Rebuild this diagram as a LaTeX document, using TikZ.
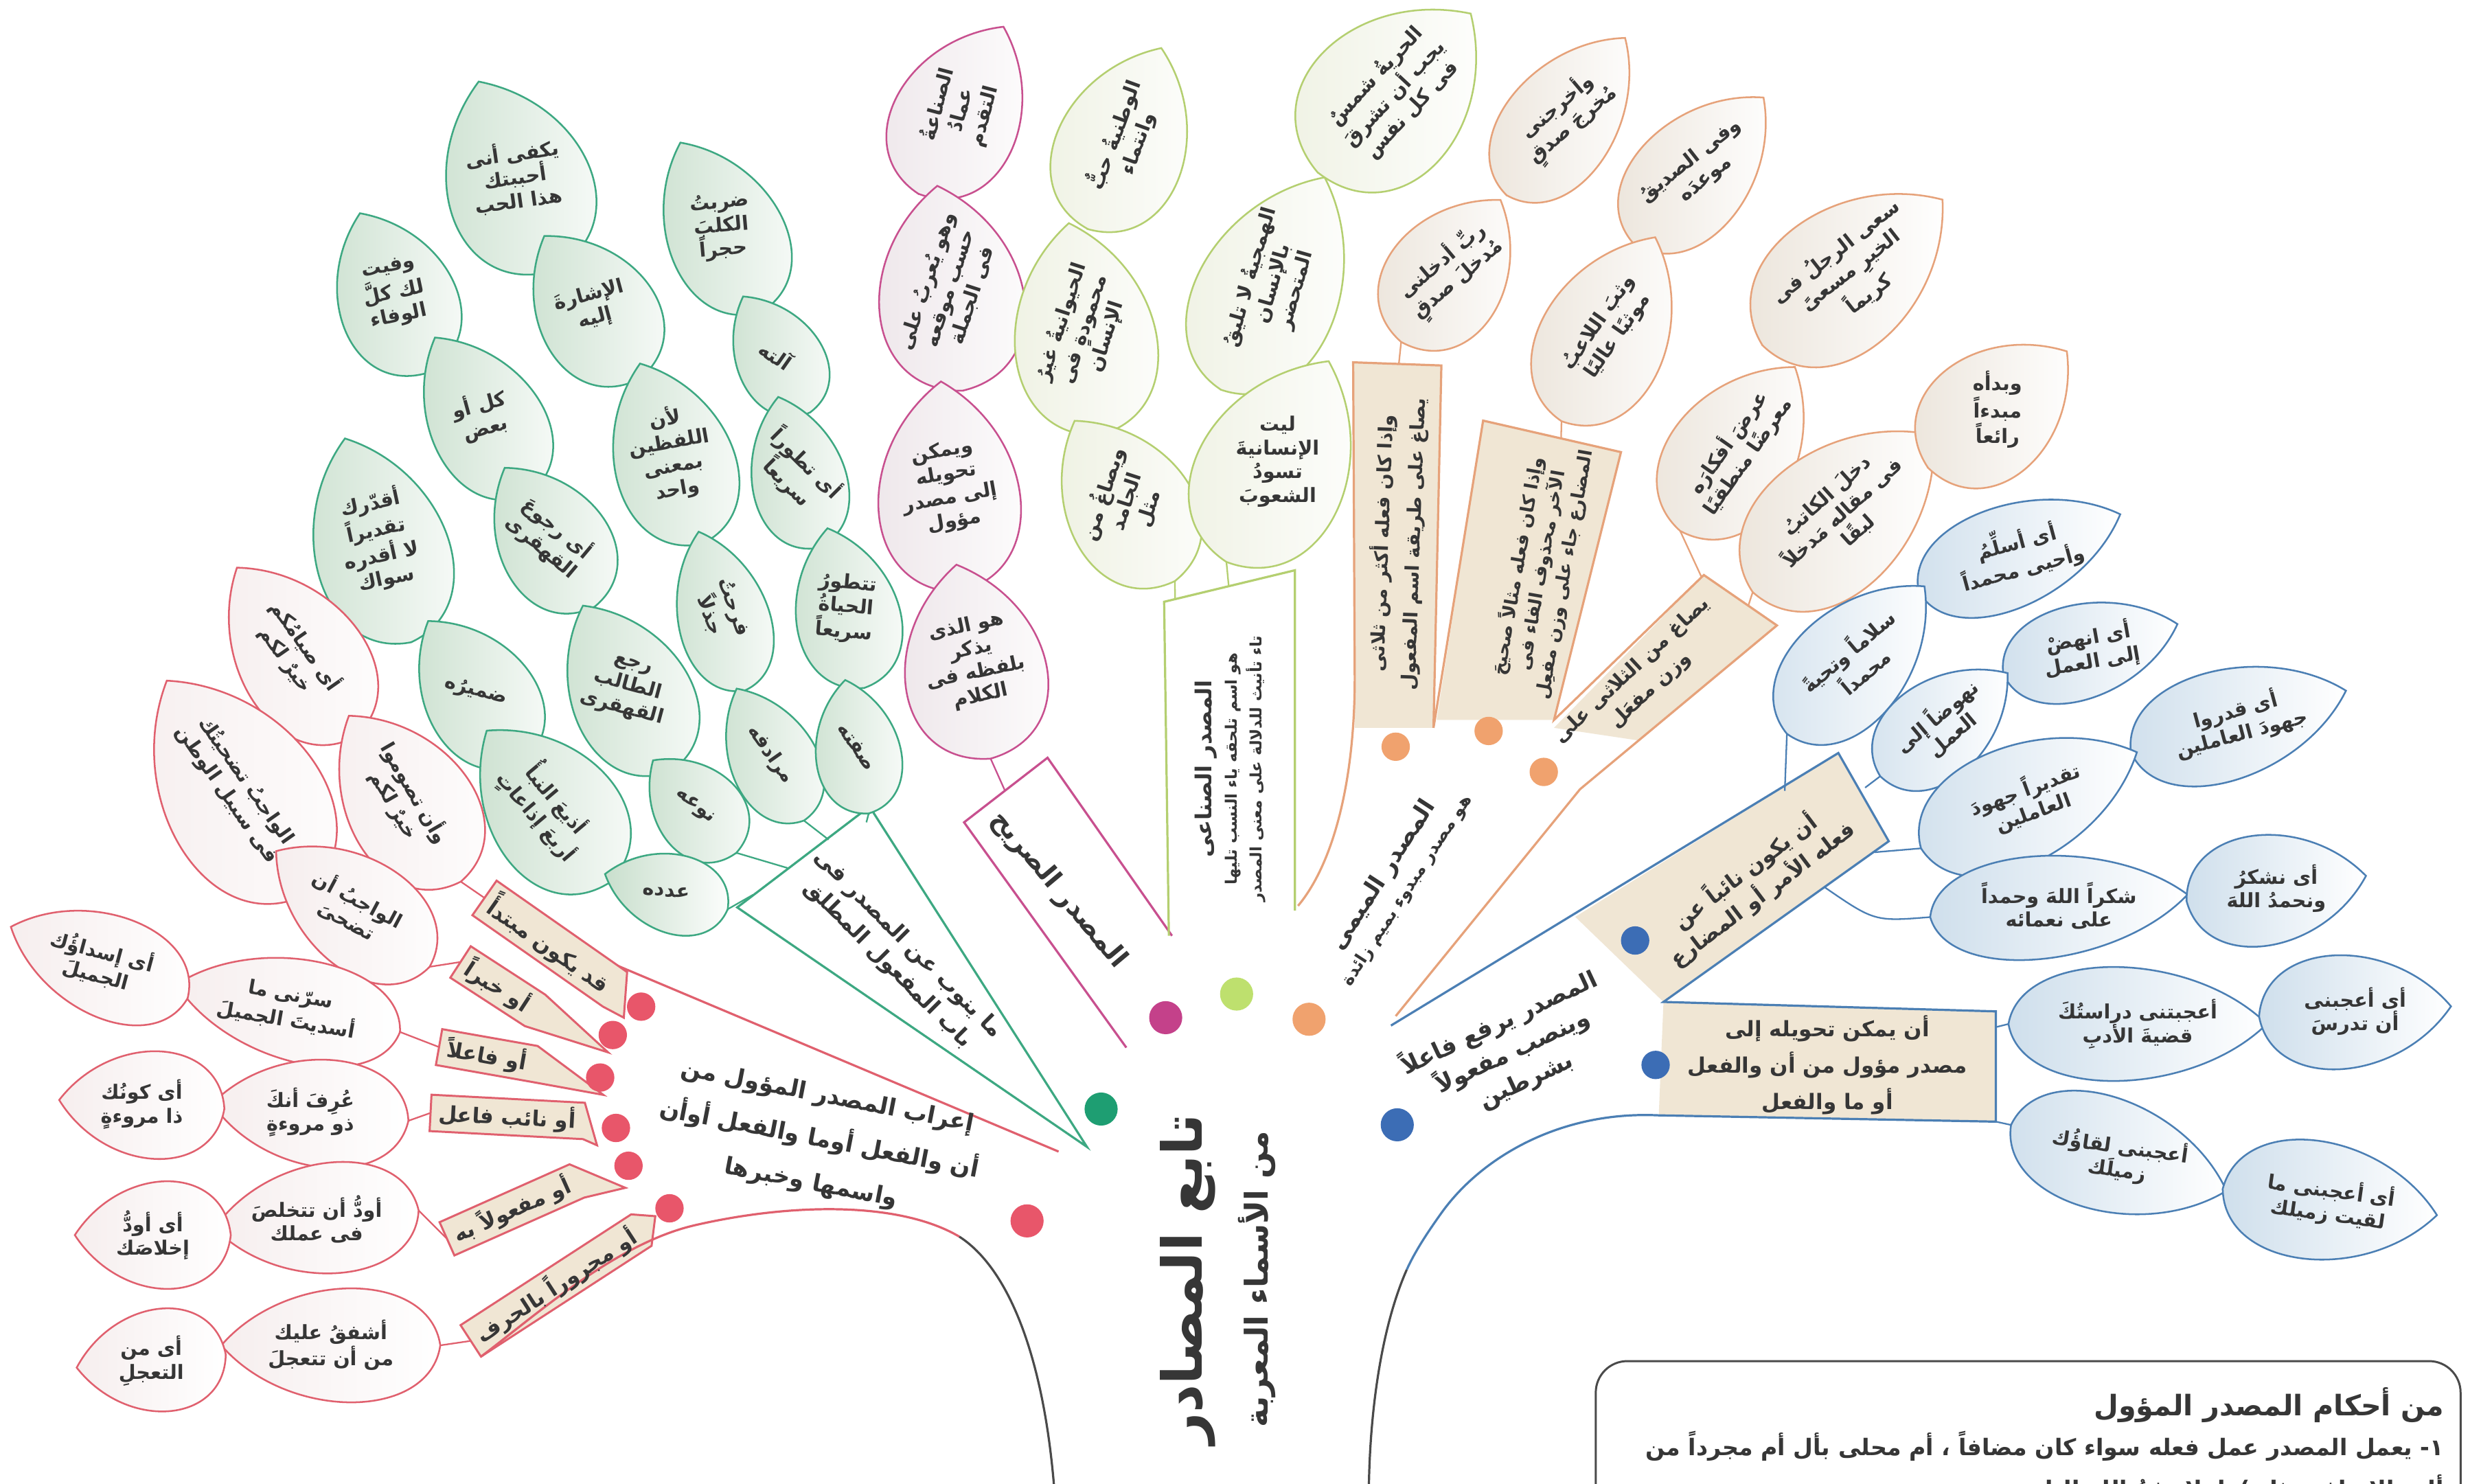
\documentclass[tikz,border=0pt]{standalone}
\usepackage{fontspec}
\newfontfamily\arfont[Script=Arabic]{DejaVu Sans}
\TeXXeTstate=1
\newcommand\ar[1]{\beginR #1\endR}
\pgfdeclarelayer{bg}
\pgfsetlayers{bg,main}
\definecolor{rc}{HTML}{E0606E}
\definecolor{rdotc}{HTML}{E8566A}
\definecolor{rfill}{HTML}{F6EEEE}
\definecolor{gc}{HTML}{3DA882}
\definecolor{gdotc}{HTML}{1E9E72}
\definecolor{gfill}{HTML}{C9DFCD}
\definecolor{pc}{HTML}{C8508F}
\definecolor{pdotc}{HTML}{C4418A}
\definecolor{pfill}{HTML}{ECE4E8}
\definecolor{lc}{HTML}{B4CF70}
\definecolor{ldotc}{HTML}{BEE06E}
\definecolor{lfill}{HTML}{EDF0E0}
\definecolor{oc}{HTML}{E6A27A}
\definecolor{odotc}{HTML}{F0A26E}
\definecolor{ofill}{HTML}{E9E1D6}
\definecolor{bc}{HTML}{4B7FB4}
\definecolor{bdotc}{HTML}{3C6DB5}
\definecolor{bfill}{HTML}{CFDFEC}
\definecolor{beige}{HTML}{F0E6D4}
\definecolor{txt}{HTML}{363636}
\definecolor{trunkc}{HTML}{4A4A4A}
\tikzset{
 leaftxt/.style={font=\arfont\bfseries\fontsize{12.5}{15}\selectfont,text=txt,align=center,inner sep=1pt},
 boxtxt/.style={text=txt,align=center,inner sep=1pt},
 leafline/.style={line width=1.1pt},
 gleaf/.style={leafline,draw=gc,left color=gfill,right color=white},
 pleaf/.style={leafline,draw=pc,left color=pfill,right color=white},
 lleaf/.style={leafline,draw=lc,left color=lfill,right color=white},
 oleaf/.style={leafline,draw=oc,left color=ofill,right color=white},
 bleaf/.style={leafline,draw=bc,left color=bfill,right color=white},
 rleaf/.style={leafline,draw=rc,left color=rfill,right color=white},
 branch/.style={line width=1.4pt},
 stem/.style={line width=1pt},
 plab/.style={font=\arfont\bfseries\fontsize{13.5}{16}\selectfont,text=txt,inner xsep=5pt,inner ysep=3pt},
 rbox/.style={draw=rc,line width=1.3pt,fill=beige},
 spot/.style={circle,inner sep=0pt,minimum size=#1},
}
\newcommand\leaf[9]{%
  \begin{pgfonlayer}{bg}
  \begin{scope}[shift={(#2,#3)},rotate=#4]
  \path[#7] (-#5/2,0) .. controls (-0.45*#5,0.67*#6) and (0.2*#5,0.67*#6) .. (#5/2,0)
     .. controls (0.2*#5,-0.67*#6) and (-0.45*#5,-0.67*#6) .. cycle;
  \coordinate (#1-b) at (-#5/2,0);
  \coordinate (#1-t) at (#5/2,0);
  \end{scope}
  \end{pgfonlayer}
  \node[leaftxt,rotate=#8] (#1) at (#2,#3) {#9};}
\newcommand\penn[3]{%
  \begin{pgfonlayer}{bg}
  \path[#3] (#1.south west) -- (#1.north west) -- (#1.north east) -- #2 -- (#1.south east) -- cycle;
  \end{pgfonlayer}}
\begin{document}
\begin{tikzpicture}[x=1pt,y=-1pt]
\useasboundingbox (0,0) rectangle (1568,942);
\begin{pgfonlayer}{bg}
\fill[white] (0,0) rectangle (1568,942);
% green wedge
\path[branch,draw=gc,fill=white] (690,728) -- (552,512) -- (468,576) -- cycle;
% pink
\draw[branch,pc] (744,594) -- (665,481) -- (612,522) -- (715,665);
% light green box
\draw[branch,lc] (742,594) -- (739,382) -- (822,362) -- (822,578);
% orange
\fill[beige] (859,230) -- (915,232) -- (910,462) -- (860,462) -- cycle;
\fill[beige] (941.5,267) -- (1029,287) -- (986.5,457) -- (912,457) -- cycle;
\fill[beige] (1081.6,365) -- (1128,397) -- (1040,470) -- (986.5,462) -- cycle;
\draw[branch,oc] (824,575) .. controls (845,550) and (860,500) .. (860,430) -- (859,230) -- (915,232) -- (910,462)
   -- (941.5,267) -- (1029,287) -- (986.5,457) -- (1081.6,365) -- (1128,397) -- (1003,501) -- (886,645);
% blue
\fill[beige] (1167,478) -- (1199,534) -- (1056,636) -- (1000,582) -- cycle;
\fill[beige] (1056,636) -- (1267,642) -- (1267,712) -- (1053,708) -- cycle;
\draw[branch,bc] (883,651) -- (1167,478) -- (1199,534) -- (1056,636) -- (1267,642) -- (1267,712) -- (1053,708)
   .. controls (990,705) and (940,735) .. (915,770) .. controls (905,784) and (898,795) .. (893,806);
\draw[branch,trunkc] (893,806) .. controls (878,840) and (870,890) .. (869,942);
% red
\draw[branch,rc] (392,613) -- (672,731);
\end{pgfonlayer}

% ---------- green leaves
\leaf{g1}{327}{112}{111}{129}{92}{gleaf}{8}{\ar{يكفى أنى}\\\ar{أحببتك}\\\ar{هذا الحب}}
\leaf{g2}{250}{186}{113}{110}{75}{gleaf}{12}{\ar{وفيت}\\\ar{لك كلَّ}\\\ar{الوفاء}}
\leaf{g3}{458}{144}{116}{119}{74}{gleaf}{5}{\ar{ضربتُ}\\\ar{الكلبَ}\\\ar{حجراً}}
\leaf{g4}{376}{195}{124}{109}{75}{gleaf}{15}{\ar{الإشارةَ}\\\ar{إليه}}
\leaf{g5}{493}{225}{120}{85}{55}{gleaf}{-35}{\ar{آلته}}
\leaf{g6}{306}{264}{121}{116}{72}{gleaf}{15}{\ar{كل أو}\\\ar{بعض}}
\leaf{g7}{426}{288}{109}{121}{76}{gleaf}{10}{\ar{لأن}\\\ar{اللفظين}\\\ar{بمعنى}\\\ar{واحد}}
\leaf{g8}{506}{300}{104}{99}{60}{gleaf}{-45}{\ar{أى تطوراً}\\\ar{سريعاً}}
\leaf{g9}{240}{343}{108}{136}{85}{gleaf}{12}{\ar{أقدّرك}\\\ar{تقديراً}\\\ar{لا أقدره}\\\ar{سواك}}
\leaf{g10}{349}{341}{123}{105}{70}{gleaf}{-40}{\ar{أى رجوعَ}\\\ar{القهقرى}}
\leaf{g11}{458}{388}{106}{105}{58}{gleaf}{-70}{\ar{فرحتُ}\\\ar{جذلاً}}
\leaf{g12}{537}{386}{103}{104}{66}{gleaf}{-5}{\ar{تتطورُ}\\\ar{الحياةُ}\\\ar{سريعاً}}
\leaf{g13}{302}{439}{124}{108}{70}{gleaf}{-15}{\ar{ضميرُه}}
\leaf{g14}{398}{437}{118}{119}{76}{gleaf}{-15}{\ar{رجع}\\\ar{الطالب}\\\ar{القهقرى}}
\leaf{g15}{489}{479}{117}{94}{55}{gleaf}{-55}{\ar{مرادفه}}
\leaf{g16}{544}{474}{100}{86}{54}{gleaf}{-55}{\ar{صفته}}
\leaf{g17}{348}{512}{129}{124}{82}{gleaf}{-50}{\ar{أذيعَ النبأُ}\\\ar{أربعَ إذاعاتٍ}}
\leaf{g18}{441}{512}{132}{79}{55}{gleaf}{-40}{\ar{نوعه}}
\leaf{g19}{423}{566}{164}{81}{50}{gleaf}{-5}{\ar{عدده}}
% ---------- pink leaves
\leaf{p1}{610}{70}{63}{119}{80}{pleaf}{75}{\ar{الصناعةُ}\\\ar{عمادُ}\\\ar{التقدم}}
\leaf{p2}{603}{183}{97}{131}{92}{pleaf}{72}{\ar{وهو يُعربُ على}\\\ar{حسب موقعه}\\\ar{فى الجملة}}
\leaf{p3}{602}{309}{94}{134}{90}{pleaf}{10}{\ar{ويمكن}\\\ar{تحويله}\\\ar{إلى مصدر}\\\ar{مؤول}}
\leaf{p4}{618}{420}{100}{125}{90}{pleaf}{12}{\ar{هو الذى}\\\ar{يذكر}\\\ar{بلفظه فى}\\\ar{الكلام}}
% ---------- light green leaves
\leaf{l1}{714}{88}{68}{124}{82}{lleaf}{70}{\ar{الوطنيةُ حبٌّ}\\\ar{وانتماء}}
\leaf{l2}{688}{209}{98}{136}{90}{lleaf}{72}{\ar{الحيوانيةُ غيرُ}\\\ar{محمودةٍ فى}\\\ar{الإنسان}}
\leaf{l3}{714}{318}{122}{120}{80}{lleaf}{72}{\ar{ويصاغُ من}\\\ar{الجامد}\\\ar{مثل}}
\leaf{l4}{808}{180}{64}{150}{90}{lleaf}{74}{\ar{الهمجيةُ لا تليقُ}\\\ar{بالإنسان}\\\ar{المتحضر}}
\leaf{l5}{811}{293}{63}{143}{95}{lleaf}{0}{\ar{ليت}\\\ar{الإنسانيةَ}\\\ar{تسودُ}\\\ar{الشعوبَ}}
\leaf{l6}{885}{59}{46}{140}{100}{lleaf}{47}{\ar{الحريةُ شمسٌ}\\\ar{يجب أن تشرقَ}\\\ar{فى كل نفس}}
% ---------- orange leaves
\leaf{o1}{921}{172}{55}{110}{75}{oleaf}{40}{\ar{ربِّ أدخلنى}\\\ar{مُدخلَ صدقٍ}}
\leaf{o2}{994}{74}{53}{125}{70}{oleaf}{40}{\ar{وأخرجنى}\\\ar{مُخرجَ صدقٍ}}
\leaf{o3}{1078}{108}{48}{124}{72}{oleaf}{38}{\ar{وفى الصديقُ}\\\ar{موعدَه}}
\leaf{o4}{1021}{209}{63}{131}{80}{oleaf}{55}{\ar{وثبَ اللاعبُ}\\\ar{موثبًا عاليًا}}
\leaf{o5}{1176}{173}{39}{147}{90}{oleaf}{38}{\ar{سعى الرجلُ فى}\\\ar{الخيرِ مسعىً}\\\ar{كريماً}}
\leaf{o6}{1103}{285}{55}{127}{80}{oleaf}{55}{\ar{عرضَ أفكارَه}\\\ar{معرضًا منطقيًا}}
\leaf{o7}{1170}{326}{41}{152}{90}{oleaf}{42}{\ar{دخلَ الكاتبُ}\\\ar{فى مقاله مَدخلاً}\\\ar{لبقًا}}
\leaf{o8}{1268}{260}{40}{115}{80}{oleaf}{0}{\ar{وبدأه}\\\ar{مبدءاً}\\\ar{رائعاً}}
% ---------- blue leaves
\leaf{b1}{1282}{351}{21}{137}{65}{bleaf}{15}{\ar{أى أسلِّمُ}\\\ar{وأحيى محمداً}}
\leaf{b2}{1178}{419}{47}{128}{72}{bleaf}{40}{\ar{سلاماً وتحيةً}\\\ar{محمداً}}
\leaf{b3}{1327}{412}{16}{115}{60}{bleaf}{10}{\ar{أى انهضْ}\\\ar{إلى العمل}}
\leaf{b4}{1234}{460}{39}{104}{62}{bleaf}{40}{\ar{نهوضاً إلى}\\\ar{العمل}}
\leaf{b5}{1421}{458}{16}{142}{70}{bleaf}{15}{\ar{أى قدروا}\\\ar{جهودَ العاملين}}
\leaf{b6}{1288}{508}{24}{150}{75}{bleaf}{20}{\ar{تقديراً جهودَ}\\\ar{العاملين}}
\leaf{b7}{1307}{575}{5}{164}{65}{bleaf}{0}{\ar{شكراً اللهَ وحمداً}\\\ar{على نعمائه}}
\leaf{b8}{1445}{564}{8}{115}{70}{bleaf}{0}{\ar{أى نشكرُ}\\\ar{ونحمدُ اللهَ}}
\leaf{b9}{1357}{650}{0}{164}{72}{bleaf}{0}{\ar{أعجبتنى دراستُكَ}\\\ar{قضيةَ الأدبِ}}
\leaf{b10}{1495}{642}{3}{122}{72}{bleaf}{0}{\ar{أى أعجبنى}\\\ar{أن تدرسَ}}
\leaf{b11}{1345}{735}{-17}{143}{72}{bleaf}{-8}{\ar{أعجبنى لقاؤُك}\\\ar{زميلَك}}
\leaf{b12}{1479}{763}{-7}{137}{75}{bleaf}{-8}{\ar{أى أعجبنى ما}\\\ar{لقيت زميلك}}
% ---------- red leaves
\leaf{r1}{188}{414}{125}{131}{80}{rleaf}{-55}{\ar{أى صيامُكم}\\\ar{خيرٌ لكم}}
\leaf{r2}{257}{507}{124}{127}{80}{rleaf}{-60}{\ar{وأن تصوموا}\\\ar{خيرٌ لكم}}
\leaf{r3}{150}{500}{123}{162}{100}{rleaf}{-55}{\ar{الواجبُ تضحيتُك}\\\ar{فى سبيل الوطن}}
\leaf{r4}{224}{577}{143}{122}{70}{rleaf}{-28}{\ar{الواجبُ أن}\\\ar{تضحىَ}}
\leaf{r5}{183}{640}{168}{145}{65}{rleaf}{-10}{\ar{سرّنى ما}\\\ar{أسديتَ الجميلَ}}
\leaf{r6}{63}{611}{158}{121}{65}{rleaf}{-15}{\ar{أى إسداؤُك}\\\ar{الجميلَ}}
\leaf{r7}{197}{706}{175}{125}{68}{rleaf}{0}{\ar{عُرِفَ أنكَ}\\\ar{ذو مروءةٍ}}
\leaf{r8}{90}{701}{177}{105}{68}{rleaf}{0}{\ar{أى كونُك}\\\ar{ذا مروءةٍ}}
\leaf{r9}{201}{774}{185}{130}{70}{rleaf}{0}{\ar{أودُّ أن تتخلصَ}\\\ar{فى عملك}}
\leaf{r10}{97}{784}{180}{99}{68}{rleaf}{0}{\ar{أى أودُّ}\\\ar{إخلاصَك}}
\leaf{r11}{210}{854}{180}{139}{72}{rleaf}{0}{\ar{أشفقُ عليك}\\\ar{من أن تتعجلَ}}
\leaf{r12}{96}{864}{185}{95}{65}{rleaf}{0}{\ar{أى من}\\\ar{التعجلِ}}

% ---------- red pennants
\node[plab,rotate=-35] (R1) at (349,599) {\ar{قد يكون مبتدأً}};
\node[plab,rotate=-33] (R2) at (316,626) {\ar{أو خبراً}};
\node[plab,rotate=-10] (R3) at (309,670) {\ar{أو فاعلاً}};
\node[plab,rotate=-3] (R4) at (322,709) {\ar{أو نائب فاعل}};
\node[plab,rotate=24] (R5) at (325,768) {\ar{أو مفعولاً به}};
\node[plab,rotate=33] (R6) at (353,816) {\ar{أو مجروراً بالحرف}};
\penn{R1}{(396,646)}{rbox}
\penn{R2}{(386,668)}{rbox}
\penn{R3}{(383,695)}{rbox}
\penn{R4}{(379,727)}{rbox}
\penn{R5}{(397,754)}{rbox}
\penn{R6}{(416,772)}{rbox}
\begin{pgfonlayer}{bg}
\draw[branch,rc] (R6.south west) .. controls (340,835) and (390,790) .. (440,778) .. controls (500,764) and (570,762) .. (609,785);
\draw[branch,trunkc] (609,785) .. controls (640,805) and (662,860) .. (669,942);
% stems
\draw[stem,gc] (g16-b) -- (550,522);
\draw[stem,gc] (g15-b) -- (526,533);
\draw[stem,gc] (g18-b) -- (500,551);
\draw[stem,gc] (g19-b) -- (478,568);
\draw[stem,pc] (p4-b) -- (638,502);
\draw[stem,lc] (l5-b) -- (780,372);
\draw[stem,lc] (l3-b) -- (746,380);
\draw[stem,oc] (o1-b) -- (888,231);
\draw[stem,oc] (o4-b) -- (991,278);
\draw[stem,oc] (o6-b) -- (1080,366);
\draw[stem,oc] (o7-b) -- (1110,384);
\draw[stem,bc] (b2-b) -- (1133,502);
\draw[stem,bc] (b4-b) -- (1184,500);
\draw[stem,bc] (b6-b) -- (1190,541);
\draw[stem,bc] (b7-b) .. controls (1190,585) .. (1158,563);
\draw[stem,bc] (b9-b) -- (1267,652);
\draw[stem,bc] (b11-b) -- (1267,712);
\draw[stem,rc] (r2-b) -- (R1.west);
\draw[stem,rc] (r4-b) -- (R2.west);
\draw[stem,rc] (r5-b) -- (R3.west);
\draw[stem,rc] (r7-b) -- (R4.west);
\draw[stem,rc] (r9-b) -- (R5.west);
\draw[stem,rc] (r11-b) -- (R6.west);
\end{pgfonlayer}

% ---------- branch texts
\node[boxtxt,font=\arfont\bfseries\fontsize{14}{18}\selectfont,rotate=-45] (gbox) at (570,606) {\ar{ما ينوب عن المصدر فى}\\\ar{باب المفعول المطلق}};
\node[boxtxt,font=\arfont\bfseries\fontsize{17}{20}\selectfont,rotate=-50] (pbox) at (672,565) {\ar{المصدر الصريح}};
\node[boxtxt,font=\arfont\bfseries\fontsize{15}{28}\selectfont,rotate=-11] (rtext) at (520,724) {\ar{إعراب المصدر المؤول من}\\\ar{أن والفعل أوما والفعل أوأن}\\\ar{واسمها وخبرها}};
\node[boxtxt,font=\arfont\bfseries\fontsize{10}{16}\selectfont,rotate=90] (lbox) at (781,488) {{\fontsize{14}{16}\selectfont\ar{المصدر الصناعى}}\\\ar{هو اسم تلحقه ياء النسب تليها}\\\ar{تاء تأنيث للدلالة على معنى المصدر}};
\node[boxtxt,font=\arfont\bfseries\fontsize{11}{17}\selectfont,rotate=57] (otext) at (885,560) {{\fontsize{15}{17}\selectfont\ar{المصدر الميمى}}\\\ar{هو مصدر مبدوء بميم زائدة}};
\node[boxtxt,font=\arfont\bfseries\fontsize{12}{20}\selectfont,rotate=88] (obox1) at (887,345) {\ar{وإذا كان فعله أكثر من ثلاثى}\\\ar{يصاغ على طريقة اسم المفعول}};
\node[boxtxt,font=\arfont\bfseries\fontsize{11.5}{15}\selectfont,rotate=80] (obox2) at (978,362) {\ar{وإذا كان فعله مثالاً صحيحَ}\\\ar{الآخر محذوف الفاء فى}\\\ar{المضارع جاء على وزن مفعِل}};
\node[boxtxt,font=\arfont\bfseries\fontsize{12.5}{17}\selectfont,rotate=43] (obox3) at (1042,432) {\ar{يصاغ من الثلاثى على}\\\ar{وزن مفعَل}};
\node[boxtxt,font=\arfont\bfseries\fontsize{13.5}{18}\selectfont,rotate=37] (bbox1) at (1113,560) {\ar{أن يكون نائباً عن}\\\ar{فعله الأمر أو المضارع}};
\node[boxtxt,font=\arfont\bfseries\fontsize{13.5}{23}\selectfont] (bbox2) at (1160,676) {\ar{أن يمكن تحويله إلى}\\\ar{مصدر مؤول من أن والفعل}\\\ar{أو ما والفعل}};
\node[boxtxt,font=\arfont\bfseries\fontsize{15}{20}\selectfont,rotate=25] (btext) at (960,667) {\ar{المصدر يرفع فاعلاً}\\\ar{وينصب مفعولاً}\\\ar{بشرطين}};

% ---------- title
\node[boxtxt,font=\arfont\bfseries\fontsize{35}{38}\selectfont,rotate=90] (title) at (754,812) {\ar{تابع المصادر}};
\node[boxtxt,font=\arfont\bfseries\fontsize{20}{22}\selectfont,rotate=90] (subtitle) at (798,812) {\ar{من الأسماء المعربة}};

% ---------- dots
\node[spot=21pt,fill=rdotc] (dr) at (652,775) {};
\node[spot=21pt,fill=gdotc] (dg) at (699,704) {};
\node[spot=21pt,fill=pdotc] (dp) at (740,646) {};
\node[spot=21pt,fill=ldotc] (dl) at (785,631) {};
\node[spot=21pt,fill=odotc] (do) at (831,647) {};
\node[spot=21pt,fill=bdotc] (db) at (887,714) {};
\node[spot=18pt,fill=rdotc] (dr1) at (407,639) {};
\node[spot=18pt,fill=rdotc] (dr2) at (389,657) {};
\node[spot=18pt,fill=rdotc] (dr3) at (381,684) {};
\node[spot=18pt,fill=rdotc] (dr4) at (391,716) {};
\node[spot=18pt,fill=rdotc] (dr5) at (399,740) {};
\node[spot=18pt,fill=rdotc] (dr6) at (425,767) {};
\node[spot=18pt,fill=odotc] (do1) at (886,474) {};
\node[spot=18pt,fill=odotc] (do2) at (945,464) {};
\node[spot=18pt,fill=odotc] (do3) at (980,490) {};
\node[spot=18pt,fill=bdotc] (db1) at (1038,597) {};
\node[spot=18pt,fill=bdotc] (db2) at (1051,676) {};

% ---------- bottom box
\draw[line width=1.3pt,draw=trunkc,rounded corners=20pt] (1013,990) -- (1013,864) -- (1562,864) -- (1562,990);
\node[anchor=east,text=txt,font=\arfont\bfseries\fontsize{18}{20}\selectfont] (bt1) at (1555,892) {\ar{من أحكام المصدر المؤول}};
\node[anchor=east,text=txt,font=\arfont\bfseries\fontsize{14.5}{16}\selectfont] (bt2) at (1555,918) {\ar{١- يعمل المصدر عمل فعله سواء كان مضافاً ، أم محلى بأل أم مجرداً من}};
\node[anchor=east,text=txt,font=\arfont\bfseries\fontsize{14.5}{16}\selectfont] (bt3) at (1555,945) {\ar{أل والإضافة مثل )ولولا دفعُ اللهِ الناسَ}};
\end{tikzpicture}
\end{document}
